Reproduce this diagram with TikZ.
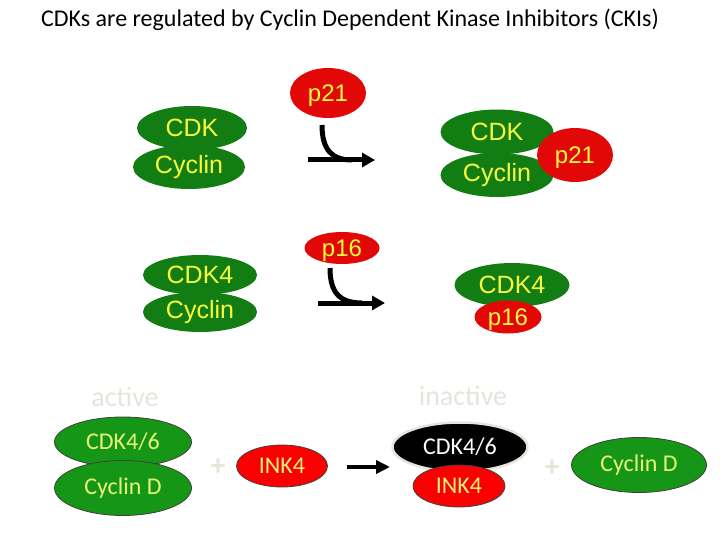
\documentclass[tikz,border=0pt]{standalone}
\usepackage{fontspec}
\setmainfont{Carlito}
\newfontfamily\arialfont{Liberation Sans}
\usetikzlibrary{shapes.geometric,arrows.meta}
\definecolor{cgreen}{RGB}{18,125,18}
\definecolor{cred}{RGB}{226,8,8}
\definecolor{ctext}{RGB}{250,250,60}
\definecolor{bgreen}{RGB}{22,150,22}
\definecolor{bred}{RGB}{250,0,0}
\definecolor{btext}{RGB}{232,244,120}
\definecolor{faint}{RGB}{230,228,220}
\tikzset{
  blob/.style={ellipse,inner sep=0pt,text=ctext,font=\arialfont\fontsize{25}{25}\selectfont},
  grn/.style={blob,fill=cgreen},
  rd/.style={blob,fill=cred,text depth=0pt,font=\arialfont\fontsize{24}{24}\selectfont},
  oval/.style={ellipse,inner sep=0pt,draw=black!75,line width=0.8pt,text=btext,font=\fontsize{24}{24}\selectfont},
  pale/.style={text=faint,font=\fontsize{28}{28}\selectfont},
  fat/.style={line width=5pt,-{Triangle[length=13pt,width=14pt]}},
}
\begin{document}
\begin{tikzpicture}[x=1pt,y=-1pt]
\useasboundingbox (0,0) rectangle (720,540);
\node(title)[font=\fontsize{24}{28}\selectfont] at (350,20) {CDKs are regulated by Cyclin Dependent Kinase Inhibitors (CKIs)};

\node(p21a)[rd,minimum width=76,minimum height=50] at (328,93) {p21};
\node(cdka)[grn,minimum width=110,minimum height=44] at (192,128) {CDK};
\node(cyca)[grn,minimum width=112,minimum height=44] at (189,167) {Cyclin};
\node(cdkb)[grn,minimum width=113,minimum height=45] at (497,132) {CDK};
\node(cycb)[grn,minimum width=113,minimum height=44] at (497,175) {Cyclin};
\node(p21b)[rd,minimum width=76,minimum height=54] at (575,155) {p21};

\coordinate(a1s) at (322,125);
\coordinate(a1j) at (352,160);
\coordinate(a1l) at (308,160);
\coordinate(a1r) at (375,160);
\draw[line width=5pt] (a1s) .. controls (322,150) and (332,160) .. (a1j);
\draw[fat] (a1l) -- (a1r);

\node(p16a)[rd,minimum width=75,minimum height=32] at (342,248) {p16};
\node(cdk4a)[grn,minimum width=114,minimum height=40] at (200,275) {CDK4};
\node(cyc4a)[grn,minimum width=114,minimum height=40] at (200,312) {Cyclin};
\node(cdk4b)[grn,minimum width=115,minimum height=44] at (512,285) {CDK4};
\node(p16b)[rd,minimum width=67,minimum height=33] at (508,317) {p16};

\coordinate(a2s) at (330,268);
\coordinate(a2j) at (362,303);
\coordinate(a2l) at (318,303);
\coordinate(a2r) at (385,303);
\draw[line width=5pt] (a2s) .. controls (330,293) and (340,303) .. (a2j);
\draw[fat] (a2l) -- (a2r);

\node(act)[pale] at (125,397) {active};
\node(inact)[pale] at (463,396) {inactive};
\node(cdk46a)[oval,fill=bgreen,minimum width=137,minimum height=50] at (123,442) {CDK4/6};
\node(cycd)[oval,fill=bgreen,minimum width=137,minimum height=55] at (123,488) {Cyclin D};
\node(plus1)[pale,font=\bfseries\fontsize{30}{30}\selectfont] at (218,467) {+};
\node(ink4a)[oval,fill=bred,minimum width=91,minimum height=42] at (282,466) {INK4};
\node(cdk46b)[oval,fill=black,draw=faint,line width=2.5pt,text=white,minimum width=135,minimum height=49] at (460,447) {CDK4/6};
\node(ink4b)[oval,fill=bred,minimum width=92,minimum height=42] at (459,486) {INK4};
\node(plus2)[pale,font=\bfseries\fontsize{30}{30}\selectfont] at (552,468) {+};
\node(cycd2)[oval,fill=bgreen,minimum width=135,minimum height=55] at (639,465) {Cyclin D};

\coordinate(a3l) at (347,467);
\coordinate(a3r) at (390,467);
\draw[line width=4pt,-{Triangle[length=14pt,width=13pt]}] (a3l) -- (a3r);
\end{tikzpicture}
\end{document}
